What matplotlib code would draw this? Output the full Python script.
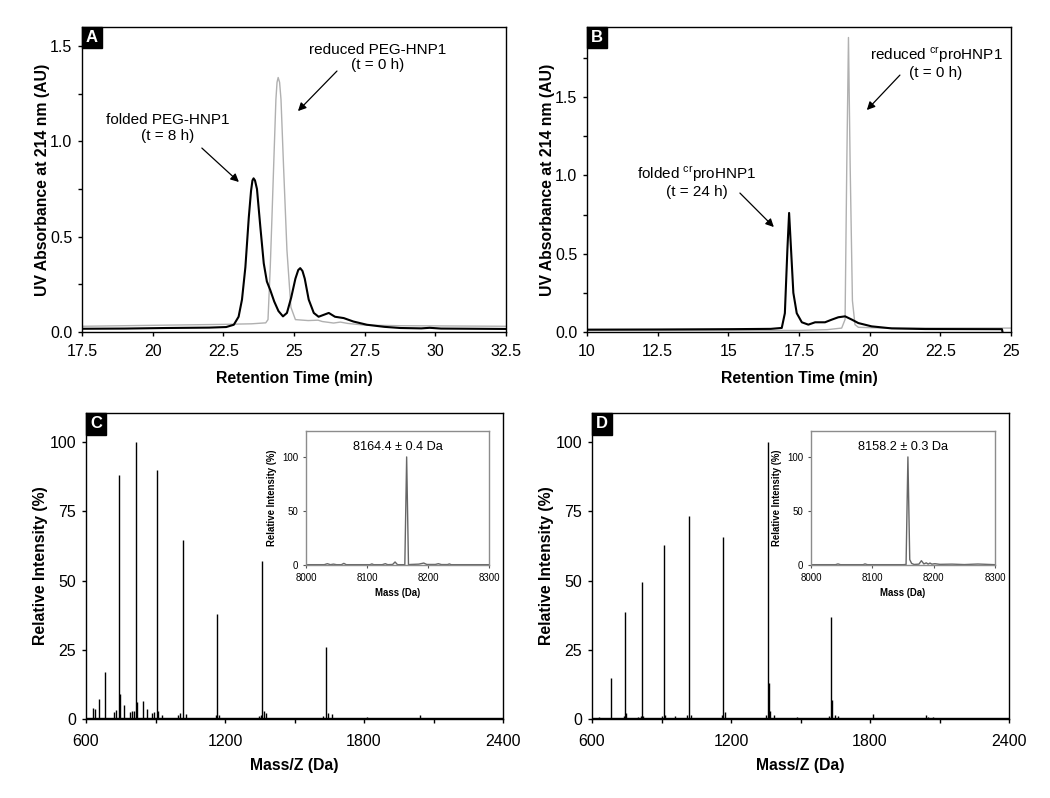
import numpy as np
import matplotlib
matplotlib.use("Agg")
import matplotlib.pyplot as plt
from matplotlib.patches import Rectangle

plt.rcParams['font.family'] = ['Liberation Sans', 'DejaVu Sans']
plt.rcParams['mathtext.fontset'] = 'custom'
plt.rcParams['mathtext.rm'] = 'Liberation Sans'

# ---- Panel A: PEG-HNP1 chromatograms (retention time, absorbance)
a_folded_t = [17.5, 19.0, 20.5, 22.0, 22.6, 22.87, 23.04, 23.16, 23.28, 23.40, 23.48, 23.53,
              23.57, 23.62, 23.69, 23.81, 23.93, 24.04, 24.16, 24.30, 24.45, 24.61, 24.75,
              24.90, 25.05, 25.15, 25.22, 25.30, 25.38, 25.52, 25.70, 25.87, 26.05, 26.23,
              26.45, 26.76, 27.1, 27.58, 28.2, 28.76, 29.5, 29.8, 30.2, 32.5]
a_folded_y = [0.017, 0.018, 0.021, 0.023, 0.026, 0.038, 0.08, 0.17, 0.34, 0.60, 0.74, 0.795,
              0.806, 0.795, 0.75, 0.55, 0.36, 0.265, 0.22, 0.16, 0.11, 0.082, 0.10,
              0.18, 0.28, 0.325, 0.335, 0.32, 0.28, 0.17, 0.10, 0.08, 0.09, 0.10,
              0.08, 0.073, 0.055, 0.038, 0.027, 0.021, 0.019, 0.022, 0.018, 0.016]
a_reduced_t = [17.5, 20.0, 22.5, 23.5, 24.0, 24.08, 24.16, 24.22, 24.28, 24.36, 24.40, 24.44,
               24.49, 24.54, 24.63, 24.75, 24.89, 25.05, 25.5, 25.85, 26.0, 26.4, 26.64,
               26.9, 27.5, 28.76, 30.0, 32.5]
a_reduced_y = [0.03, 0.035, 0.04, 0.043, 0.048, 0.065, 0.34, 0.6, 0.87, 1.22, 1.31, 1.335,
               1.31, 1.22, 0.87, 0.43, 0.13, 0.065, 0.06, 0.062, 0.055, 0.047, 0.052,
               0.045, 0.036, 0.033, 0.032, 0.03]

# ---- Panel B: crproHNP1 chromatograms
b_folded_t = [10.0, 12.5, 15.0, 16.5, 16.89, 17.0, 17.09, 17.15, 17.2, 17.3, 17.42, 17.6,
              17.83, 18.07, 18.42, 18.66, 18.89, 19.13, 19.37, 19.6, 20.07, 20.78, 21.96,
              24.68, 24.70]
b_folded_y = [0.015, 0.016, 0.018, 0.02, 0.026, 0.12, 0.53, 0.76, 0.59, 0.25, 0.12, 0.062,
              0.047, 0.062, 0.062, 0.079, 0.094, 0.10, 0.079, 0.057, 0.036, 0.023, 0.019,
              0.018, 0.0]
b_reduced_t = [10.0, 15.0, 17.5, 18.5, 19.01, 19.13, 19.19, 19.25, 19.31, 19.39, 19.48, 19.6,
               20.5, 25.0]
b_reduced_y = [0.01, 0.01, 0.01, 0.015, 0.025, 0.08, 1.06, 1.88, 1.06, 0.2, 0.047, 0.03,
               0.025, 0.025]

# ---- Panel C: ESI-MS of PEG-HNP1 (m/z, relative intensity)
c_mz = [629, 639, 655, 680, 720, 730, 742, 747, 764, 790, 800, 808, 816, 820, 844, 862,
        885, 895, 906, 912, 926, 995, 1005, 1020, 1030, 1160, 1166, 1175, 1345, 1355,
        1361, 1370, 1379, 1625, 1635, 1645, 1664, 1815, 2041]
c_int = [3.8, 3.5, 7.2, 17, 2.5, 3.2, 88, 9, 5, 2.6, 2.8, 3, 100, 6, 6.6, 3.5,
         2, 2.5, 90, 3, 1.5, 1.5, 2, 64.8, 1.8, 1.5, 38, 1.5, 1.2, 1.5,
         57, 3, 2, 1.2, 26, 2, 1.8, 0.6, 1.4]
c_deconv_mass = [8000, 8030, 8035, 8040, 8045, 8050, 8058, 8062, 8066, 8080, 8105, 8108,
                 8111, 8125, 8130, 8134, 8142, 8146, 8150, 8162, 8165, 8168, 8172, 8185,
                 8193, 8198, 8212, 8217, 8222, 8232, 8235, 8238, 8260, 8280, 8300]
c_deconv_int = [0.3, 0.3, 1.2, 0.3, 0.8, 0.3, 0.3, 1.5, 0.3, 0.3, 0.3, 1.0,
                0.3, 0.3, 1.2, 0.3, 0.5, 2.8, 0.3, 0.3, 100, 0.3, 0.5, 0.8,
                1.8, 0.5, 0.5, 1.2, 0.4, 0.4, 1.0, 0.3, 0.3, 0.3, 0.3]

# ---- Panel D: ESI-MS of crproHNP1
d_mz = [629, 682, 738, 742, 748, 800, 810, 815, 820, 900, 909, 915, 959, 1010, 1019, 1026,
        1160, 1167, 1172, 1350, 1361, 1364, 1370, 1387, 1483, 1625, 1633, 1636, 1649, 1663,
        1812, 2041, 2050, 2072]
d_int = [0.8, 14.7, 1, 38.6, 2, 0.8, 1, 49.3, 1.2, 1, 62.9, 1.5, 1, 1.5, 73.4, 1.5,
         1.5, 65.6, 2.5, 1.5, 100, 13, 3, 1.5, 0.8, 1.2, 36.7, 7, 1.4, 1.2,
         1.8, 1.4, 0.8, 0.8]
d_deconv_mass = [8000, 8040, 8044, 8048, 8085, 8088, 8092, 8150, 8155, 8158, 8161, 8164,
                 8168, 8176, 8180, 8184, 8188, 8191, 8194, 8197, 8202, 8210, 8230, 8250,
                 8272, 8300]
d_deconv_int = [0.3, 0.3, 1, 0.3, 0.3, 1, 0.3, 0.3, 0.5, 100, 5, 1.5,
                0.5, 0.8, 4, 1, 2, 0.8, 1.8, 0.8, 1.2, 0.6, 0.8, 0.4,
                0.9, 0.3]

W, H = 1050, 798
fig = plt.figure(figsize=(W / 100, H / 100), dpi=100)

LABEL = dict(fontsize=11.3, fontweight='bold')


def px_axes(left, top, right, bottom):
    return fig.add_axes([left / W, 1 - bottom / H, (right - left) / W, (bottom - top) / H])


def style(ax, lw=1.0, tick=3, pad=6):
    for s in ax.spines.values():
        s.set_linewidth(lw)
    ax.tick_params(direction='out', length=tick, width=lw, labelsize=11.5, pad=pad)
    ax.tick_params(which='minor', direction='out', length=tick, width=lw)
    ax.tick_params(axis='y', pad=4)


def panel_label(ax, letter, wpx, hpx, axw, axh):
    w, h = wpx / axw, hpx / axh
    ax.add_patch(Rectangle((0, 1 - h), w, h, transform=ax.transAxes, fc='black',
                           ec='black', zorder=5, clip_on=False))
    ax.text(w / 2, 1 - h / 2, letter, transform=ax.transAxes, ha='center', va='center',
            color='white', fontweight='bold', fontsize=12, zorder=6)


arrow = dict(arrowstyle='-|>', color='black', lw=0.9, mutation_scale=12, shrinkA=0, shrinkB=0)

# Panel A
axA = px_axes(82, 27, 506, 332)
axA.plot(a_reduced_t, a_reduced_y, color='#b0b0b0', lw=1.0)
axA.plot(a_folded_t, a_folded_y, color='black', lw=1.5)
axA.set_xlim(17.5, 32.5)
axA.set_ylim(0, 1.6)
axA.set_xticks(np.arange(17.5, 32.6, 2.5))
axA.set_xticklabels(['17.5', '20', '22.5', '25', '27.5', '30', '32.5'])
axA.set_yticks([0, 0.5, 1.0, 1.5])
axA.set_yticklabels(['0.0', '0.5', '1.0', '1.5'])
axA.set_yticks([0.25, 0.75, 1.25], minor=True)
style(axA)
axA.set_xlabel('Retention Time (min)', labelpad=8, **LABEL)
axA.set_ylabel('UV Absorbance at 214 nm (AU)', labelpad=0, **LABEL)
axA.text(27.97, 1.44, 'reduced PEG-HNP1\n(t = 0 h)', ha='center', va='center', fontsize=11,
         linespacing=1.15)
axA.annotate('', xy=(25.14, 1.159), xytext=(26.52, 1.369), arrowprops=arrow)
axA.text(20.54, 1.07, 'folded PEG-HNP1\n(t = 8 h)', ha='center', va='center', fontsize=11,
         linespacing=1.15)
axA.annotate('', xy=(23.05, 0.787), xytext=(21.74, 0.965), arrowprops=arrow)
panel_label(axA, 'A', 20, 21, 424, 305)

# Panel B
axB = px_axes(587, 27, 1011, 332)
axB.plot(b_reduced_t, b_reduced_y, color='#b0b0b0', lw=1.0)
axB.plot(b_folded_t, b_folded_y, color='black', lw=1.5)
axB.set_xlim(10, 25)
axB.set_ylim(0, 1.947)
axB.set_xticks(np.arange(10, 25.1, 2.5))
axB.set_xticklabels(['10', '12.5', '15', '17.5', '20', '22.5', '25'])
axB.set_yticks([0, 0.5, 1.0, 1.5])
axB.set_yticklabels(['0.0', '0.5', '1.0', '1.5'])
axB.set_yticks([0.25, 0.75, 1.25, 1.75], minor=True)
style(axB)
axB.set_xlabel('Retention Time (min)', labelpad=8, **LABEL)
axB.set_ylabel('UV Absorbance at 214 nm (AU)', labelpad=0, **LABEL)
axB.text(22.35, 1.72, 'reduced $^{\\mathrm{cr}}$proHNP1\n(t = 0 h)', ha='center', va='center',
         fontsize=11, linespacing=1.15)
axB.annotate('', xy=(19.9, 1.417), xytext=(21.07, 1.64), arrowprops=arrow)
axB.text(13.89, 0.96, 'folded $^{\\mathrm{cr}}$proHNP1\n(t = 24 h)', ha='center', va='center',
         fontsize=11, linespacing=1.15)
axB.annotate('', xy=(16.61, 0.67), xytext=(15.41, 0.887), arrowprops=arrow)
panel_label(axB, 'B', 20, 21, 424, 305)


def ms_panel(ax, mz, inten, letter):
    ax.vlines(mz, 0, inten, color='black', lw=1.0)
    ax.axhline(0.3, color='black', lw=1.0)
    ax.set_xlim(600, 2400)
    ax.set_ylim(0, 110.5)
    ax.set_xticks([600, 1200, 1800, 2400])
    ax.set_xticks([900, 1500, 2100], minor=True)
    ax.set_yticks([0, 25, 50, 75, 100])
    style(ax, pad=8)
    ax.set_xlabel('Mass/Z (Da)', labelpad=6, **LABEL)
    ax.set_ylabel('Relative Intensity (%)', labelpad=1, **LABEL)
    panel_label(ax, letter, 20, 22, 417, 306)


def inset(ax, mass, inten, label):
    ax.plot(mass, inten, color='#666666', lw=1.0)
    ax.set_xlim(8000, 8300)
    ax.set_ylim(0, 124)
    ax.set_xticks([8000, 8100, 8200, 8300])
    ax.set_yticks([0, 50, 100])
    for s in ax.spines.values():
        s.set_color('#8c8c8c')
        s.set_linewidth(1.0)
    ax.tick_params(direction='out', length=2.5, width=0.8, labelsize=7, pad=3,
                   color='#555555')
    ax.set_xlabel('Mass (Da)', fontsize=6.9, fontweight='bold', labelpad=4)
    ax.set_ylabel('Relative Intensity (%)', fontsize=6.9, fontweight='bold', labelpad=4)
    ax.text(0.5, 0.88, label, transform=ax.transAxes, ha='center', va='center', fontsize=9.2)


axC = px_axes(86, 413, 503, 719)
ms_panel(axC, c_mz, c_int, 'C')
axCi = px_axes(306, 431, 489, 565)
inset(axCi, c_deconv_mass, c_deconv_int, '8164.4 ± 0.4 Da')

axD = px_axes(592, 413, 1009, 719)
ms_panel(axD, d_mz, d_int, 'D')
axDi = px_axes(811, 431, 995, 565)
inset(axDi, d_deconv_mass, d_deconv_int, '8158.2 ± 0.3 Da')

fig.savefig('out.png', dpi=100, facecolor='white')
